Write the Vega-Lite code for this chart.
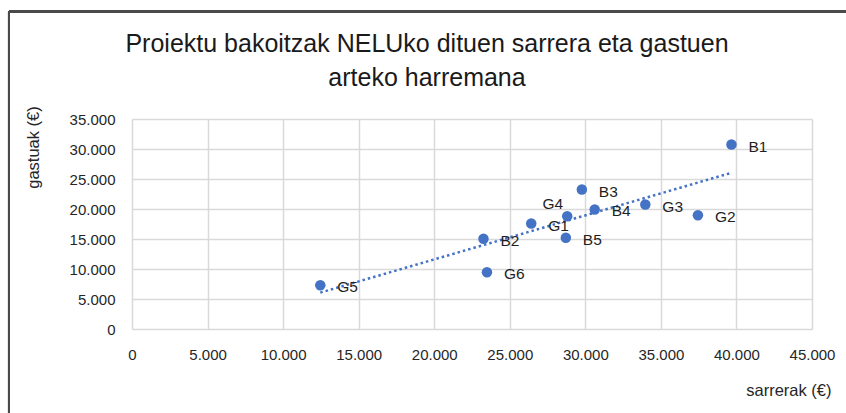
{
  "$schema": "https://vega.github.io/schema/vega-lite/v6.json",
  "width": 680,
  "height": 210,
  "autosize": "none",
  "padding": {"left": 132, "top": 119, "right": 34, "bottom": 84},
  "background": "white",
  "title": {
    "text": ["Proiektu bakoitzak NELUko dituen sarrera eta gastuen", "arteko harremana"],
    "font": "Liberation Sans",
    "fontSize": 25,
    "fontWeight": "normal",
    "color": "#1a1a1a",
    "anchor": "middle",
    "dx": -45,
    "offset": -80,
    "lineHeight": 34
  },
  "config": {
    "view": {"stroke": null},
    "font": "Liberation Sans",
    "axis": {
      "grid": true,
      "gridColor": "#d9d9d9",
      "gridWidth": 1.5,
      "domain": false,
      "ticks": false,
      "labelFlush": false,
      "labelFont": "Liberation Sans",
      "labelFontSize": 15,
      "labelColor": "#262626",
      "titleFont": "Liberation Sans",
      "titleFontSize": 16.5,
      "titleFontWeight": "normal",
      "titleColor": "#262626"
    }
  },
  "data": {
    "values": [
      {"izena": "B1", "sarrerak": 39670, "gastuak": 30750},
      {"izena": "G2", "sarrerak": 37450, "gastuak": 18970},
      {"izena": "G3", "sarrerak": 33970, "gastuak": 20750},
      {"izena": "B3", "sarrerak": 29770, "gastuak": 23250},
      {"izena": "B4", "sarrerak": 30620, "gastuak": 19920},
      {"izena": "G4", "sarrerak": 28800, "gastuak": 18800},
      {"izena": "B5", "sarrerak": 28710, "gastuak": 15200},
      {"izena": "G1", "sarrerak": 26420, "gastuak": 17580},
      {"izena": "B2", "sarrerak": 23260, "gastuak": 15030},
      {"izena": "G6", "sarrerak": 23490, "gastuak": 9470},
      {"izena": "G5", "sarrerak": 12460, "gastuak": 7300}
    ]
  },
  "encoding": {
    "x": {
      "field": "sarrerak",
      "type": "quantitative",
      "scale": {"domain": [0, 45000], "nice": false},
      "axis": {
        "title": "sarrerak (€)",
        "values": [0, 5000, 10000, 15000, 20000, 25000, 30000, 35000, 40000, 45000],
        "format": ",d",
        "labelExpr": "replace(datum.label, ',', '.')",
        "labelPadding": 18,
        "titleX": 699,
        "titleY": 61,
        "titleAlign": "right",
        "titleBaseline": "middle"
      }
    },
    "y": {
      "field": "gastuak",
      "type": "quantitative",
      "scale": {"domain": [0, 35000], "nice": false},
      "axis": {
        "title": "gastuak (€)",
        "values": [0, 5000, 10000, 15000, 20000, 25000, 30000, 35000],
        "format": ",d",
        "labelExpr": "replace(datum.label, ',', '.')",
        "labelPadding": 17,
        "titleX": -91,
        "titleY": 28,
        "titleAlign": "center"
      }
    }
  },
  "layer": [
    {
      "mark": {"type": "rule", "color": "#4a4a4a", "strokeWidth": 2, "clip": false},
      "encoding": {
        "x": {"datum": -8140, "type": "quantitative"},
        "y": {"datum": 52900, "type": "quantitative"},
        "y2": {"datum": -30000}
      }
    },
    {
      "mark": {"type": "rule", "color": "#4a4a4a", "strokeWidth": 2, "clip": false},
      "encoding": {
        "y": {"datum": 52900, "type": "quantitative"},
        "x": {"datum": -8140, "type": "quantitative"},
        "x2": {"datum": 60000}
      }
    },
    {
      "transform": [{"regression": "gastuak", "on": "sarrerak"}],
      "mark": {"type": "line", "color": "#4472C4", "strokeWidth": 2.5, "strokeDash": [2.5, 3]},
      "encoding": {}
    },
    {
      "mark": {"type": "circle", "color": "#4472C4", "opacity": 1, "size": 110},
      "encoding": {}
    },
    {
      "transform": [{"filter": "datum.izena != 'G4'"}],
      "mark": {"type": "text", "align": "left", "baseline": "middle", "dx": 17, "dy": 2, "fontSize": 15.5, "color": "#1f1f1f", "font": "Liberation Sans"},
      "encoding": {"text": {"field": "izena"}}
    },
    {
      "transform": [{"filter": "datum.izena == 'G4'"}],
      "mark": {"type": "text", "align": "right", "baseline": "middle", "dx": -4, "dy": -12, "fontSize": 15.5, "color": "#1f1f1f", "font": "Liberation Sans"},
      "encoding": {"text": {"field": "izena"}}
    }
  ]
}
